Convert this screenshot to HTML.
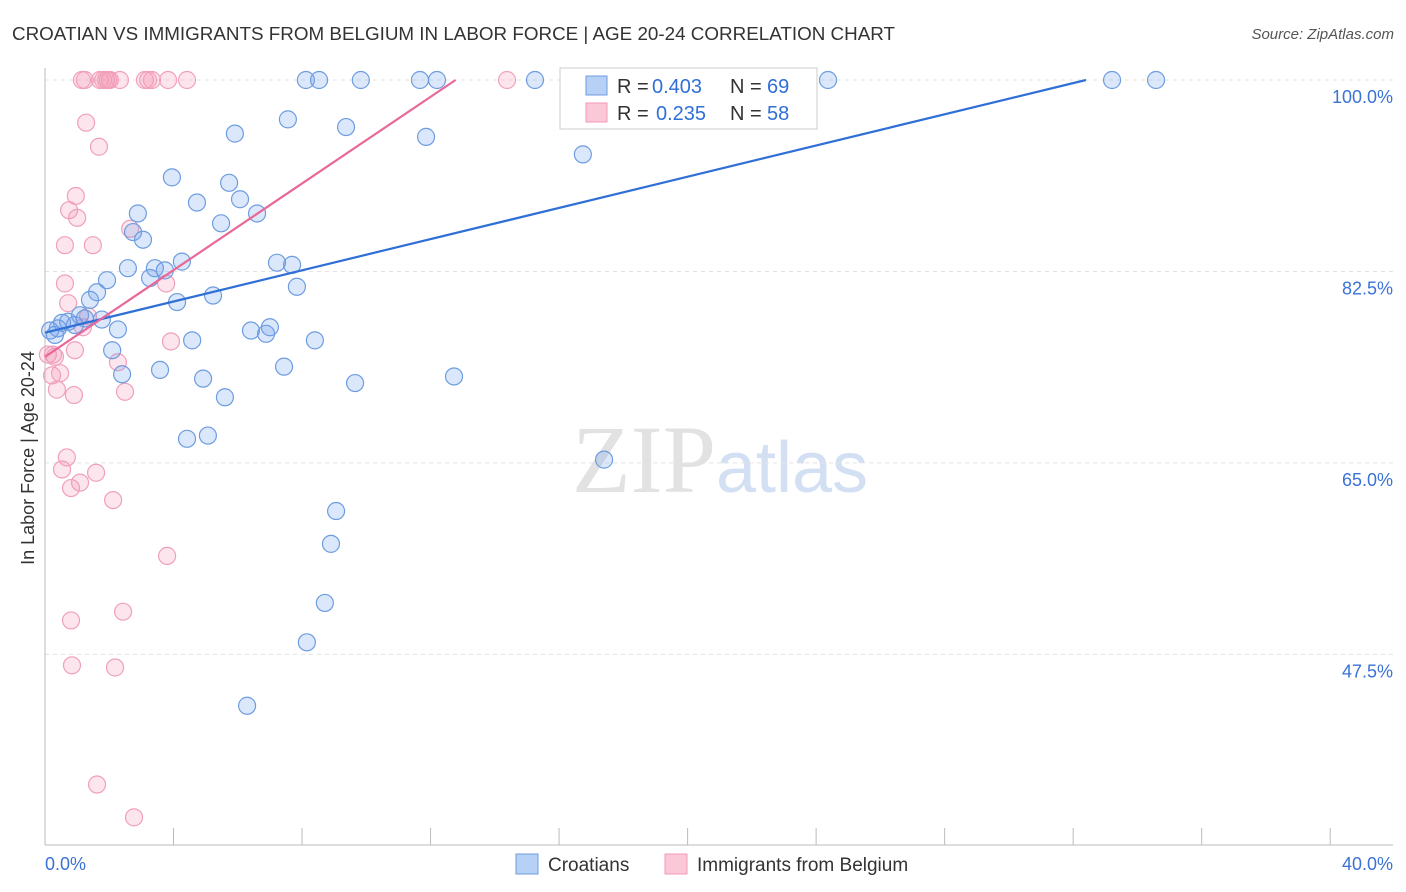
<!DOCTYPE html>
<html><head><meta charset="utf-8"><style>
body{margin:0;background:#fff;font-family:"Liberation Sans",sans-serif;}
#wrap{position:relative;width:1406px;height:892px;overflow:hidden;}
</style></head><body>
<div id="wrap">
<svg id="svg" width="1406" height="892" xmlns="http://www.w3.org/2000/svg">
<text x="12" y="40" font-size="18" fill="#333" textLength="883" lengthAdjust="spacingAndGlyphs">CROATIAN VS IMMIGRANTS FROM BELGIUM IN LABOR FORCE | AGE 20-24 CORRELATION CHART</text>
<text x="1394" y="39" font-size="15" fill="#555" font-style="italic" text-anchor="end">Source: ZipAtlas.com</text>
<text x="34" y="458" font-size="18" fill="#333" text-anchor="middle" transform="rotate(-90 34 458)">In Labor Force | Age 20-24</text>
<text x="720" y="492" font-size="96" fill="#e2e2e2" text-anchor="middle" font-family="Liberation Serif,serif">ZIP<tspan fill="#d3e0f3" font-family="Liberation Sans,sans-serif" font-size="72">atlas</tspan></text>
<g id="grid"></g><g id="axes"></g><g id="pts"></g><g id="lines"></g>
<g>
<rect x="560" y="68" width="257" height="61" fill="#fff" stroke="#ccc"/>
<rect x="586" y="76" width="21" height="19" fill="#b7d0f5" stroke="#6d9de0"/>
<text y="93" font-size="20" fill="#333"><tspan x="617">R =</tspan><tspan x="652" fill="#2f6fd6">0.403</tspan><tspan x="730">N =</tspan><tspan x="767" fill="#2f6fd6">69</tspan></text>
<rect x="586" y="103" width="21" height="19" fill="#fbc8d8" stroke="#f09ab5"/>
<text y="120" font-size="20" fill="#333"><tspan x="617">R =</tspan><tspan x="656" fill="#2f6fd6">0.235</tspan><tspan x="730">N =</tspan><tspan x="767" fill="#2f6fd6">58</tspan></text>
</g>
<g>
<rect x="516" y="854" width="22" height="20" fill="#b7d0f5" stroke="#6d9de0"/>
<text x="548" y="871" font-size="19" fill="#333">Croatians</text>
<rect x="665" y="854" width="22" height="20" fill="#fbc8d8" stroke="#f09ab5"/>
<text x="697" y="871" font-size="19" fill="#333">Immigrants from Belgium</text>
</g>
</svg></div>
<script>
const yTicks=[100,82.5,65,47.5];
const yTickLabels=["100.0%","82.5%","65.0%","47.5%"];
const xTickLabels=["0.0%","40.0%"];
const blueX=[0.16,0.31,0.40,0.53,0.72,0.93,1.09,1.24,1.40,1.62,1.77,1.93,2.09,2.27,2.40,2.58,2.74,2.89,3.05,3.27,3.42,3.58,3.73,3.95,4.11,4.26,4.42,4.58,4.73,4.92,5.07,5.23,5.48,5.60,5.73,5.91,6.07,6.29,6.41,6.60,6.88,7.00,7.22,7.44,7.56,7.69,7.84,8.15,8.12,8.40,8.53,8.71,8.90,9.06,9.37,9.65,9.83,11.67,11.86,12.20,12.73,15.25,16.74,17.40,22.56,24.37,33.21,34.58];
const blueY=[77.1,76.7,77.3,77.8,77.9,77.6,78.5,78.2,79.9,80.6,78.1,81.7,75.3,77.2,73.1,82.8,86.1,87.8,85.4,81.9,82.8,73.5,82.6,91.1,79.7,83.4,67.2,76.2,88.8,72.7,67.5,80.3,86.9,71.0,90.6,95.1,89.1,42.8,77.1,87.8,76.8,77.4,83.3,73.8,96.4,83.1,81.1,48.6,100,76.2,100,52.2,57.6,60.6,95.7,72.3,100,100,94.8,100,72.9,100,93.2,65.3,100,100,100,100];
const pinkX=[0.09,0.22,0.31,0.37,0.47,0.53,0.62,0.62,0.68,0.72,0.75,0.81,0.81,0.84,0.90,0.96,1.00,1.09,1.15,1.24,1.28,1.18,1.34,1.49,1.59,1.62,1.68,1.71,1.81,1.90,1.96,2.02,2.12,2.18,2.27,2.33,2.43,2.49,2.65,2.77,3.11,3.21,3.33,3.77,3.80,3.83,3.92,4.42,14.38,0.93,0.25];
const pinkY=[74.9,73.0,74.7,71.7,73.2,64.4,84.9,81.4,65.5,79.6,88.1,62.7,50.6,46.5,71.2,89.4,87.4,63.2,100,100,96.1,77.4,78.4,84.9,64.1,35.6,93.9,100,100,100,100,100,61.6,46.3,74.2,100,51.4,71.5,86.4,32.6,100,100,100,81.4,56.5,100,76.1,100,100,75.3,74.9];
const blueLine=[76.9,0.713];
const pinkLine=[74.7,1.98];
const NS="http://www.w3.org/2000/svg";
const X=v=>45+v*32.13, Y=v=>80+(100-v)*10.94;
function mk(t,a,p){const e=document.createElementNS(NS,t);for(const k in a)e.setAttribute(k,a[k]);document.getElementById(p).appendChild(e);return e;}
yTicks.forEach((t,i)=>{
 const l=mk('line',{x1:45,x2:1393,y1:Y(t),y2:Y(t),stroke:'#e3e3e3','stroke-dasharray':'4 4'},'grid');
 
 
 const tx=mk('text',{x:1393,y:Y(t)+23,'font-size':18,fill:'#3b72d6','text-anchor':'end'},'grid');
 tx.textContent=yTickLabels[i];
 
 
});
const ax=mk('line',{x1:45,x2:1393,y1:845,y2:845,stroke:'#bbb'},'axes');


const ay=mk('line',{x1:45,x2:45,y1:68,y2:845,stroke:'#bbb'},'axes');


for(let i=0;i<=10;i++){const t=mk('line',{x1:X(i*4),x2:X(i*4),y1:828,y2:845,stroke:'#bbb'},'axes');
 
 }
[[0,'start',X(0)],[1,'end',1393]].forEach(([i,a,x])=>{const t=mk('text',{x:x,y:870,'font-size':18,fill:'#3b72d6','text-anchor':a},'axes');t.textContent=xTickLabels[i];
 
 });
pinkX.forEach((x,i)=>{const c=mk('circle',{cx:X(x),cy:Y(pinkY[i]),r:8.5,fill:'rgba(245,150,180,0.25)',stroke:'#f0a0bb','stroke-width':1.2},'pts');
 
 });
blueX.forEach((x,i)=>{const c=mk('circle',{cx:X(x),cy:Y(blueY[i]),r:8.5,fill:'rgba(110,160,235,0.25)',stroke:'#6d9de0','stroke-width':1.2},'pts');
 
 });
function line(p,col,name){const xe=Math.min(40,(100-p[0])/p[1]);
 const l=mk('line',{x1:X(0),y1:Y(p[0]),x2:X(xe),y2:Y(p[0]+p[1]*xe),stroke:col,'stroke-width':2.2},'lines');
 
 }
line(blueLine,'#2f6fd6','croatians-trendline');
line(pinkLine,'#e8689a','belgium-trendline');
</script>
</body></html>
